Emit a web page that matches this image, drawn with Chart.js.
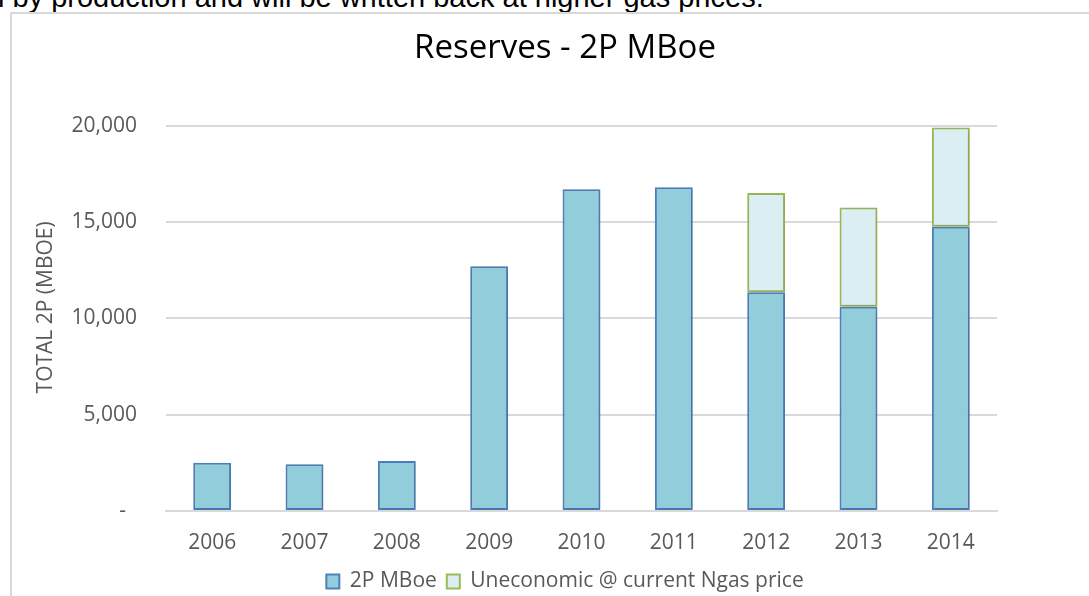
<!DOCTYPE html>
<html>
<head>
<meta charset="utf-8">
<script src="https://cdn.jsdelivr.net/npm/chart.js@4"></script>
<style>
  html, body { margin: 0; padding: 0; background: #fff; overflow: hidden; }
  body { width: 1089px; height: 596px; position: relative; }
  #note {
    position: absolute; left: -2px; top: -17px; white-space: nowrap;
    font: 29px/29px "Liberation Sans", Arial, sans-serif; color: #000;
  }
  #frame {
    position: absolute; left: 10px; top: 12px; width: 1200px; height: 700px;
    border-left: 2px solid #d9d9d9; border-top: 2px solid #d9d9d9;
  }
  #wrap { position: absolute; left: 11px; top: 13px; width: 1108px; height: 589px; }
</style>
</head>
<body>
<div id="note">l by production and will be written back at higher gas prices.</div>
<div id="frame"></div>
<div id="wrap"><canvas id="reserves"></canvas></div>
<script>
// data (MBoe)
var years = ['2006', '2007', '2008', '2009', '2010', '2011', '2012', '2013', '2014'];
var reserves2P = [2500, 2430, 2590, 12700, 16700, 16800, 11350, 10600, 14750];
var uneconomic = [null, null, null, null, null, null, 5150, 5150, 5150];
var yTicks = [0, 5000, 10000, 15000, 20000];

var font = '"Open Sans", sans-serif';
var grey = '#595959';

// soft shadow under the bars, like the excel original
const barShadow = {
    id: 'barShadow',
    beforeDatasetsDraw(chart) {
        const ctx = chart.ctx;
        ctx.save();
        ctx.shadowColor = 'rgba(0,0,0,0.18)';
        ctx.shadowBlur = 4;
        ctx.shadowOffsetX = 1;
        ctx.shadowOffsetY = 1;
    },
    afterDatasetsDraw(chart) {
        chart.ctx.restore();
    }
};

new Chart('reserves', {
    type: 'bar',
    data: {
        labels: years,
        datasets: [{
            label: '2P MBoe',
            data: reserves2P,
            backgroundColor: '#92cddc',
            borderColor: '#4f81bd',
            borderWidth: 2,
            borderSkipped: false
        }, {
            label: 'Uneconomic @ current Ngas price',
            data: uneconomic,
            backgroundColor: '#daeef3',
            borderColor: '#9bbb59',
            borderWidth: 2,
            borderSkipped: false
        }]
    },
    options: {
        responsive: true,
        maintainAspectRatio: false,
        animation: false,
        datasets: { bar: { barPercentage: 0.41, categoryPercentage: 1 } },
        plugins: {
            title: {
                display: true,
                text: 'Reserves - 2P MBoe',
                color: '#000',
                font: { family: font, size: 33, weight: 'normal' },
                padding: { top: 16, bottom: 57 }
            },
            legend: {
                position: 'bottom',
                labels: {
                    color: grey,
                    font: { family: font, size: 21 },
                    boxWidth: 13,
                    boxHeight: 14,
                    padding: 10
                }
            },
            tooltip: { enabled: false }
        },
        scales: {
            x: {
                stacked: true,
                afterFit: (scale) => { scale.height = 50 },
                grid: { display: false, drawTicks: false },
                border: { display: true, color: '#d9d9d9', width: 2 },
                ticks: { color: grey, font: { family: font, size: 21 }, padding: 19 }
            },
            y: {
                stacked: true,
                min: 0,
                max: 20000,
                afterFit: (scale) => { scale.width = 155 },
                afterBuildTicks: (scale) => { scale.ticks = yTicks.map(v => ({ value: v })) },
                grid: { color: '#d9d9d9', lineWidth: 2, drawTicks: false },
                border: { display: false },
                ticks: {
                    color: grey,
                    font: { family: font, size: 21 },
                    padding: 29,
                    callback: (v) => v === 0 ? '-  ' : v.toLocaleString('en-US')
                },
                title: {
                    display: true,
                    // leading spaces nudge the rotated title up a little, as in the original
                    text: '    TOTAL 2P (MBOE)',
                    color: grey,
                    font: { family: font, size: 21 },
                    padding: { top: 22, bottom: 0 }
                }
            },
            // empty right axis, only keeps the title and legend centred like the original
            y2: {
                position: 'right',
                display: true,
                afterFit: (scale) => { scale.width = 122 },
                grid: { display: false },
                border: { display: false },
                ticks: { display: false }
            }
        }
    },
    plugins: [barShadow]
});
</script>
</body>
</html>
